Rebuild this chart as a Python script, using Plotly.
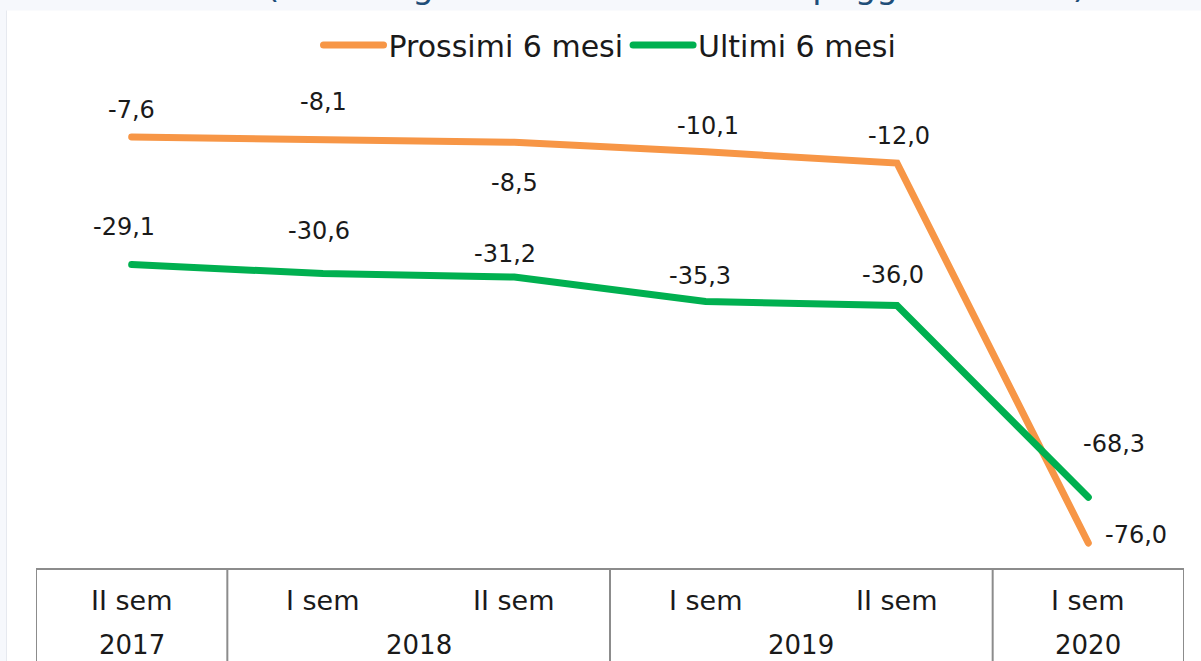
import plotly.graph_objects as go

# ---------------- data ----------------
categories = ["II sem 2017", "I sem 2018", "II sem 2018", "I sem 2019", "II sem 2019", "I sem 2020"]
sem_labels = ["II sem", "I sem", "II sem", "I sem", "II sem", "I sem"]
year_labels = ["2017", "2018", "2018", "2019", "2019", "2020"]
prossimi = [-7.6, -8.1, -8.5, -10.1, -12.0, -76.0]
ultimi = [-29.1, -30.6, -31.2, -35.3, -36.0, -68.3]
title_text = "(saldi % giudizi di aumento e di peggioramento)"

# ---------------- label offsets (pixels) ----------------
prossimi_shift = [(0, 27), (0, 38), (0, -41), (2, 26), (2, 27), (48, 8)]
ultimi_shift = [(-8, 38), (-4, 43), (-9, 23), (-6, 25), (-4, 31), (26, 53)]

ORANGE = "#F79646"
GREEN = "#00B050"
TXT = "#1a1a1a"
GRID = "#8c8c8c"
BG = "#F6F8FC"
FONT = "DejaVu Sans"

L, R, T, B = 36, 17, 80, 92
W, H = 1201, 661
PW, PH = W - L - R, H - T - B


def px_to_paper_x(px):
    return (px - L) / PW


def py_to_paper_y(py):
    return (H - B - py) / PH


fig = go.Figure()
fig.add_trace(go.Scatter(x=categories, y=prossimi, mode="lines", name="Prossimi 6 mesi",
                         line=dict(color=ORANGE, width=7), hoverinfo="skip"))
fig.add_trace(go.Scatter(x=categories, y=ultimi, mode="lines", name="Ultimi 6 mesi",
                         line=dict(color=GREEN, width=7), hoverinfo="skip"))

annotations = []


def fmt(v):
    return f"{v:.1f}".replace(".", ",")


for series, shifts in ((prossimi, prossimi_shift), (ultimi, ultimi_shift)):
    for c, v, (dx, dy) in zip(categories, series, shifts):
        annotations.append(dict(x=c, y=v, xref="x", yref="y", text=fmt(v), showarrow=False,
                                xshift=dx, yshift=dy, font=dict(family=FONT, size=24, color=TXT)))

# table-style axis labels
for c, s in zip(categories, sem_labels):
    annotations.append(dict(x=c, y=py_to_paper_y(600), xref="x", yref="paper", text=s,
                            yanchor="middle", showarrow=False,
                            font=dict(family=FONT, size=27, color=TXT)))

# year groups
groups = []
for i, yv in enumerate(year_labels):
    if groups and groups[-1][0] == yv:
        groups[-1][2] = i
    else:
        groups.append([yv, i, i])
shapes = []
for yv, i0, i1 in groups:
    annotations.append(dict(x=(i0 + i1) / 2, y=py_to_paper_y(645), xref="x", yref="paper", text=yv,
                            yanchor="middle", showarrow=False,
                            font=dict(family=FONT, size=26, color=TXT)))
    shapes.append(dict(type="line", xref="x", yref="paper", x0=i0 - 0.5, x1=i0 - 0.5,
                       y0=0, y1=-0.5, line=dict(color=GRID, width=2)))
shapes.append(dict(type="line", xref="x", yref="paper", x0=len(categories) - 0.5, x1=len(categories) - 0.5,
                   y0=0, y1=-0.5, line=dict(color=GRID, width=2)))
shapes.append(dict(type="line", xref="x", yref="paper", x0=-0.5, x1=len(categories) - 0.5,
                   y0=0, y1=0, line=dict(color=GRID, width=2)))

# page frame strips
shapes.append(dict(type="rect", xref="paper", yref="paper", x0=px_to_paper_x(-5), x1=px_to_paper_x(6.5),
                   y0=-1, y1=2, fillcolor=BG, line=dict(width=0), layer="below"))
shapes.append(dict(type="rect", xref="paper", yref="paper", x0=-1, x1=2,
                   y0=py_to_paper_y(10.5), y1=2, fillcolor=BG, line=dict(width=0), layer="below"))
shapes.append(dict(type="line", xref="paper", yref="paper", x0=px_to_paper_x(6.5), x1=px_to_paper_x(6.5),
                   y0=-1, y1=py_to_paper_y(10.5), line=dict(color="#e6e9ef", width=1)))

# clipped title (only the descenders show at the top edge)
annotations.append(dict(x=px_to_paper_x(676), y=py_to_paper_y(8), xref="paper", yref="paper",
                        text=title_text, showarrow=False, yanchor="bottom",
                        font=dict(family=FONT, size=34, color="#1F4E79")))

fig.update_layout(
    width=W, height=H,
    margin=dict(l=L, r=R, t=T, b=B),
    paper_bgcolor="white", plot_bgcolor="white",
    showlegend=True,
    legend=dict(orientation="h", x=0.5, xanchor="center", y=py_to_paper_y(45), yanchor="middle",
                font=dict(family=FONT, size=30, color=TXT), itemwidth=60, bgcolor="rgba(0,0,0,0)"),
    xaxis=dict(type="category", range=[-0.5, len(categories) - 0.5], showticklabels=False,
               showgrid=False, zeroline=False, showline=False, ticks=""),
    yaxis=dict(range=[-80.38, 2.0], showticklabels=False, showgrid=False, zeroline=False,
               showline=False, ticks=""),
    annotations=annotations,
    shapes=shapes,
)

post = (
    "document.body.style.margin='0px';"
    "document.querySelectorAll('.scatterlayer .js-line, .legendlines path')"
    ".forEach(function(p){p.style.strokeLinecap='round';});"
)
fig.write_html("out.html", post_script=post, config={"displayModeBar": False})
